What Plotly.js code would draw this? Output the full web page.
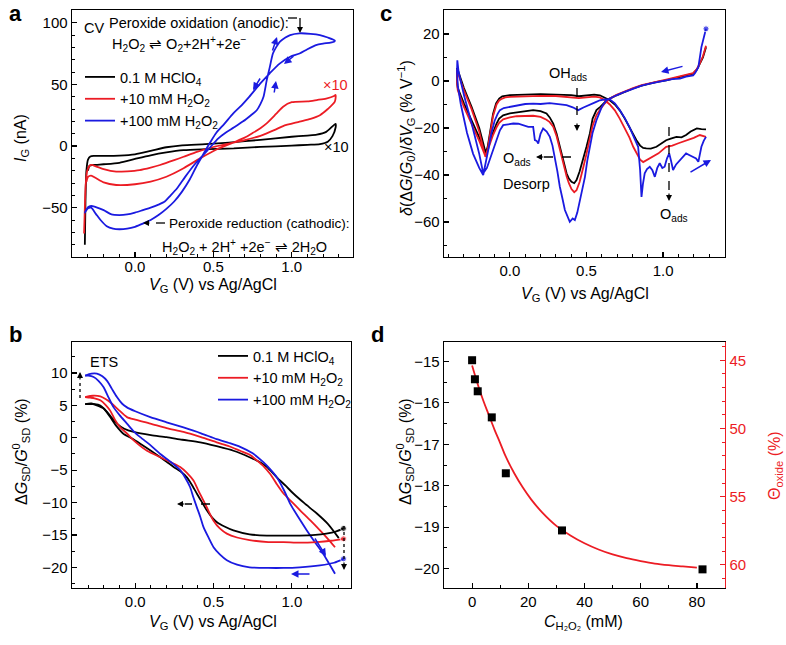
<!DOCTYPE html>
<html><head><meta charset="utf-8">
<script src="https://cdn.plot.ly/plotly-3.0.1.min.js"></script>
<style>body{margin:0;background:#fff}#chart{width:786px;height:645px}</style>
</head><body><div id="chart"></div>
<script>
// ---------- Panel a : CV, [V, I(nA)] ----------
const aBlack = [[-0.32,-80],[-0.316,-45],[-0.31,-20],[-0.30,-11],[-0.285,-8.5],[-0.26,-8],[-0.2,-8],[-0.1,-7.8],[0.0,-6.8],[0.1,-4],[0.2,-1],[0.3,0.6],[0.45,1.5],[0.6,2.8],[0.8,5],[1.0,7.5],[1.1,8.5],[1.16,9.2],[1.22,11.5],[1.28,18],
  [1.28,15],[1.26,8],[1.23,3.5],[1.18,1.6],[1.1,1],[1.0,0.3],[0.8,-0.7],[0.63,-1.9],[0.45,-2.6],[0.31,-3.4],[0.2,-5.2],[0.1,-7.5],[0.0,-10.5],[-0.1,-13.6],[-0.2,-14.8],[-0.266,-15.4],[-0.29,-16],[-0.30,-20]];
const aRed = [[-0.325,-71],[-0.32,-50],[-0.315,-32],[-0.305,-20],[-0.29,-16],[-0.275,-15.3],[-0.25,-16.5],[-0.2,-18.8],[-0.12,-20.8],[-0.05,-20.5],[0.03,-19.5],[0.1,-17.5],[0.16,-15.4],[0.25,-11.5],[0.31,-8.7],[0.4,-4.5],[0.5,-0.8],[0.6,2],[0.7,4.8],[0.8,8.3],[0.84,10.3],[0.9,13.5],[0.945,16.2],[1.05,19.7],[1.12,22],[1.18,25],[1.23,30],[1.275,36],
  [1.28,41.4],[1.27,40.5],[1.22,38.5],[1.16,37.3],[1.1,36.2],[1.0,35.5],[0.945,31.9],[0.9,26],[0.84,18.4],[0.8,14.5],[0.75,10.5],[0.7,6.8],[0.63,3],[0.52,-2.8],[0.415,-10],[0.31,-18],[0.2,-24.9],[0.1,-28.8],[0.0,-31],[-0.12,-31.6],[-0.2,-29.5],[-0.25,-26],[-0.28,-24],[-0.3,-25],[-0.31,-29]];
const aBlue = [[-0.32,-54],[-0.30,-49.5],[-0.28,-48.5],[-0.25,-49.5],[-0.2,-52],[-0.15,-55.5],[-0.1,-56],[-0.05,-55.5],[0.0,-54],[0.05,-52],[0.1,-50],[0.15,-47.5],[0.19,-45],[0.22,-41],[0.27,-34],[0.32,-25],[0.38,-15],[0.43,-8],[0.48,-1],[0.53,6],[0.58,11],[0.63,15],[0.69,20],[0.74,25],[0.777,29],[0.80,34],[0.82,40],[0.84,53],[0.86,64],[0.88,75],[0.9,80],[0.925,84.6],[0.96,88],[0.99,90],[1.05,91.4],[1.12,91],[1.18,90],[1.23,88],[1.275,85.5],
  [1.27,84.6],[1.2,83],[1.16,82],[1.1,78.5],[1.05,75],[0.99,72.4],[0.925,67],[0.86,59],[0.8,50.8],[0.73,40],[0.68,33],[0.627,26.5],[0.57,18],[0.52,11],[0.48,3],[0.43,-8],[0.39,-17],[0.35,-27],[0.3,-37],[0.25,-45],[0.2,-51],[0.15,-56],[0.1,-60],[0.05,-63],[0.0,-65.5],[-0.05,-67],[-0.1,-67.5],[-0.14,-67],[-0.18,-65],[-0.22,-60],[-0.25,-55],[-0.28,-50],[-0.3,-50.5],[-0.32,-54]];

// ---------- Panel c : derivative, [V, %/V] ----------
const cBlack = [[1.28,14.4],[1.26,10],[1.24,7.4],[1.22,4.8],[1.196,3.1],[1.15,2.3],[1.11,1.7],[1.06,1.0],[1.02,0.3],[0.96,-0.4],[0.913,-1.1],[0.86,-2],[0.804,-3.2],[0.75,-4.5],[0.696,-6.1],[0.652,-7.5],[0.62,-9],[0.59,-11],[0.565,-12.4],[0.54,-16],[0.522,-22.3],[0.5,-28],[0.478,-33.7],[0.455,-38.5],[0.435,-42.2],[0.42,-43.5],[0.402,-42.9],[0.385,-41.5],[0.37,-39.3],[0.35,-34],[0.326,-28],[0.305,-22.5],[0.283,-18.1],[0.26,-15.5],[0.239,-13.8],[0.2,-12.8],[0.152,-12.4],[0.1,-12.8],[0.044,-13.2],[0.0,-13.8],[-0.044,-14.6],[-0.07,-16],[-0.087,-18.1],[-0.11,-21.5],[-0.13,-25.2],[-0.145,-28.5],[-0.157,-30.8],
  [-0.18,-25],[-0.2,-20],[-0.25,-11],[-0.3,-3],[-0.337,4],[-0.345,5.5],[-0.345,0],[-0.34,-3],[-0.3,-9.5],[-0.25,-16.5],[-0.2,-24],[-0.175,-28.5],[-0.16,-31],
  [-0.145,-28],[-0.13,-22],[-0.11,-14],[-0.09,-9.5],[-0.07,-7.5],[-0.05,-6.5],[-0.03,-6.2],[0.0,-6],[0.1,-5.8],[0.2,-5.6],[0.3,-5.8],[0.4,-6],[0.45,-6.5],[0.5,-6.2],[0.55,-5.8],[0.587,-6.1],[0.62,-7],[0.652,-8.2],[0.685,-10],[0.717,-12.5],[0.75,-16],[0.78,-19.5],[0.805,-23],[0.826,-25.2],[0.85,-27.5],[0.87,-28.5],[0.89,-28.7],[0.92,-28.8],[0.957,-28],[0.99,-26.5],[1.02,-25.2],[1.05,-24.5],[1.087,-23.8],[1.12,-24],[1.15,-23],[1.18,-21.5],[1.22,-20.2],[1.25,-20.5],[1.28,-20.6]];
const cRed = [[1.28,15],[1.26,10.5],[1.24,7.5],[1.22,5],[1.196,3.3],[1.15,2.5],[1.11,1.9],[1.06,1.2],[1.02,0.6],[0.96,-0.2],[0.913,-0.9],[0.86,-1.8],[0.804,-3],[0.75,-4.3],[0.696,-5.9],[0.652,-7.5],[0.62,-9.5],[0.59,-12],[0.565,-14.5],[0.54,-19],[0.522,-25],[0.5,-31],[0.478,-37],[0.455,-43],[0.435,-46.5],[0.42,-47.3],[0.402,-46],[0.385,-43.5],[0.37,-40.5],[0.35,-35],[0.326,-29],[0.305,-23.5],[0.283,-19.5],[0.26,-17.5],[0.239,-16.5],[0.2,-15.3],[0.152,-14.8],[0.1,-14.8],[0.044,-15],[0.0,-15.5],[-0.044,-16.3],[-0.07,-17.8],[-0.087,-19.7],[-0.11,-23],[-0.13,-26.5],[-0.145,-30],[-0.16,-32.3],
  [-0.18,-27],[-0.2,-21.5],[-0.25,-12],[-0.3,-4],[-0.337,3],[-0.345,5],[-0.345,-1],[-0.34,-4],[-0.3,-11],[-0.25,-18],[-0.2,-25.5],[-0.175,-29.5],[-0.16,-32],
  [-0.145,-29],[-0.13,-23],[-0.11,-15],[-0.087,-10],[-0.07,-8.3],[-0.05,-7.5],[-0.03,-7],[0.0,-6.8],[0.1,-6.5],[0.2,-6.3],[0.3,-6.4],[0.4,-6.8],[0.45,-7.3],[0.5,-7],[0.55,-6.7],[0.587,-7],[0.62,-8.2],[0.652,-10],[0.685,-12.5],[0.717,-16],[0.75,-20],[0.78,-24],[0.805,-28],[0.826,-30.5],[0.85,-33.5],[0.87,-34.5],[0.89,-33.8],[0.935,-32.3],[0.97,-30.8],[1.02,-28],[1.06,-27.5],[1.1,-26.5],[1.13,-25.9],[1.17,-25],[1.2,-24.2],[1.24,-23],[1.26,-23.5],[1.28,-23.8]];
const cBlue = [[1.28,22.2],[1.265,18],[1.25,14.4],[1.24,10],[1.23,5.9],[1.21,3.5],[1.196,2.4],[1.15,1.8],[1.11,1],[1.06,0.8],[1.02,0.3],[0.96,-0.4],[0.913,-1.1],[0.86,-2],[0.804,-3.2],[0.75,-4.6],[0.696,-6.1],[0.66,-7.2],[0.63,-8.2],[0.6,-11],[0.565,-16.7],[0.54,-22],[0.522,-28],[0.505,-34],[0.49,-40.8],[0.473,-46],[0.457,-52],[0.44,-56],[0.424,-59.2],[0.41,-58.5],[0.391,-59.9],[0.375,-57.5],[0.359,-54.9],[0.343,-50],[0.326,-45],[0.31,-38.5],[0.294,-32.3],[0.278,-27.5],[0.261,-23.8],[0.24,-21.5],[0.217,-20.2],[0.2,-22.5],[0.185,-26.6],[0.175,-25.5],[0.163,-25.2],[0.152,-19.5],[0.12,-19.5],[0.087,-18.8],[0.055,-18.2],[0.022,-18.1],[-0.01,-18.5],[-0.044,-18.8],[-0.065,-21],[-0.087,-25.2],[-0.11,-29.5],[-0.13,-33.7],[-0.15,-37],[-0.174,-39.3],
  [-0.2,-31],[-0.25,-18],[-0.3,-6],[-0.335,4],[-0.343,8.8],[-0.345,4],[-0.34,-2],[-0.32,-10],[-0.28,-22],[-0.24,-31],[-0.2,-37],[-0.174,-40],
  [-0.16,-36],[-0.14,-29],[-0.12,-22],[-0.1,-17],[-0.08,-14],[-0.065,-12.4],[-0.04,-11.5],[0.0,-11],[0.044,-10.3],[0.1,-9.8],[0.152,-9.6],[0.2,-9.8],[0.26,-9.4],[0.31,-9.9],[0.37,-10.3],[0.41,-11.2],[0.446,-12.4],[0.48,-11.3],[0.52,-10.3],[0.56,-9],[0.587,-8.2],[0.62,-7.8],[0.652,-7.8],[0.685,-9.5],[0.717,-12.4],[0.75,-15.8],[0.78,-19.5],[0.81,-24],[0.837,-28],[0.85,-38],[0.859,-49.3],[0.868,-44],[0.88,-39.3],[0.895,-37.5],[0.913,-36.5],[0.93,-38],[0.946,-40.8],[0.962,-37],[0.978,-35],[0.995,-37],[1.01,-36.5],[1.025,-33],[1.04,-30.8],[1.052,-34],[1.065,-37.9],[1.085,-35.5],[1.11,-33.7],[1.13,-32],[1.15,-30.8],[1.17,-31.5],[1.196,-32.3],[1.215,-33],[1.23,-34.4],[1.24,-31],[1.25,-28],[1.265,-25.5],[1.28,-23.8]];

// ---------- Panel b : conductance, [V, %] ----------
const bBlackUp = [[-0.32,5.2],[-0.28,5.3],[-0.245,5],[-0.2,4.5],[-0.18,4],[-0.15,3.1],[-0.117,2.2],[-0.07,1.4],[-0.01,0.9],[0.1,0.4],[0.2,0.1],[0.3,-0.3],[0.415,-0.7],[0.52,-1.3],[0.627,-2],[0.73,-3],[0.8,-3.8],[0.84,-4.5],[0.904,-6.1],[0.96,-7.4],[1.01,-8.6],[1.08,-10.1],[1.16,-11.7],[1.23,-13.3],[1.30,-15.5]];
const bBlackDn = [[1.33,-14],[1.28,-14.5],[1.22,-14.8],[1.15,-15],[1.05,-15.1],[0.95,-15.1],[0.84,-15.1],[0.73,-14.9],[0.627,-14.3],[0.57,-13.7],[0.52,-13],[0.49,-12.3],[0.457,-11.2],[0.425,-9.9],[0.393,-8.6],[0.36,-7.2],[0.33,-6.1],[0.29,-5.2],[0.245,-4.5],[0.2,-3.7],[0.16,-3],[0.1,-2],[0.032,-0.9],[-0.02,-0.1],[-0.074,0.6],[-0.12,1.8],[-0.16,3.2],[-0.2,4.5],[-0.223,5],[-0.26,5.2],[-0.32,5.2]];
const bRedUp = [[-0.32,6.3],[-0.27,6.5],[-0.223,6.4],[-0.19,6],[-0.16,5.5],[-0.11,4.4],[-0.053,3.2],[0.0,2.8],[0.096,2.2],[0.2,1.5],[0.308,0.9],[0.42,0.1],[0.52,-0.7],[0.6,-1.3],[0.67,-2],[0.73,-2.6],[0.777,-3.5],[0.82,-4.4],[0.862,-5.6],[0.9,-7],[0.947,-8.6],[1.0,-9.9],[1.053,-11.2],[1.12,-12.8],[1.18,-14.3],[1.23,-15.6],[1.276,-16.9]];
const bRedDn = [[1.33,-15.6],[1.25,-15.9],[1.16,-16.1],[1.05,-16.2],[0.947,-16.1],[0.85,-16.1],[0.73,-15.8],[0.65,-15.4],[0.585,-14.8],[0.54,-14],[0.5,-12.8],[0.47,-11.4],[0.436,-9.7],[0.4,-8],[0.372,-6.6],[0.33,-5.4],[0.287,-4.5],[0.22,-3.7],[0.16,-3],[0.075,-2],[-0.01,-0.4],[-0.05,0.6],[-0.096,1.6],[-0.13,2.8],[-0.16,4.2],[-0.19,5.1],[-0.223,5.8],[-0.26,6.1],[-0.287,6.2],[-0.32,6.3]];
const bBlueUp = [[-0.32,9.6],[-0.28,9.9],[-0.245,9.9],[-0.21,9.5],[-0.18,8.8],[-0.15,7.6],[-0.117,6.3],[-0.085,5.3],[-0.053,4.7],[0.0,4.1],[0.096,3.2],[0.2,2.4],[0.308,1.6],[0.42,0.7],[0.52,-0.2],[0.6,-0.8],[0.67,-1.4],[0.75,-2.4],[0.82,-3.8],[0.86,-4.8],[0.904,-6.1],[0.95,-8.1],[0.99,-10.2],[1.04,-12.2],[1.096,-14.3],[1.15,-16.2],[1.2,-17.9],[1.24,-19.5],[1.276,-21]];
const bBlueDn = [[1.33,-18.7],[1.27,-19.3],[1.18,-19.7],[1.05,-20],[0.947,-20.1],[0.85,-20.1],[0.73,-20],[0.65,-19.6],[0.585,-18.9],[0.54,-18],[0.5,-16.9],[0.47,-15.5],[0.436,-13.8],[0.415,-12.2],[0.393,-10.7],[0.37,-9.1],[0.35,-7.6],[0.32,-6.2],[0.287,-5],[0.22,-3.6],[0.16,-2.5],[0.1,-1.2],[0.032,0.1],[-0.01,1],[-0.053,2.2],[-0.1,3.5],[-0.138,4.7],[-0.17,6.2],[-0.202,7.8],[-0.235,8.8],[-0.266,9.4],[-0.3,9.6],[-0.32,9.6]];

// ---------- Panel d ----------
const dConc = [0, 1, 2, 7, 12, 32, 82];
const dG = [-14.97, -15.43, -15.72, -16.35, -17.70, -19.08, -20.02];
const fitConc = [0,2,4,6,8,10,12,15,18,21,25,30,35,40,45,50,55,60,65,70,75,80];
const fitG = [-15.1,-15.55,-15.95,-16.3,-16.65,-16.97,-17.3,-17.7,-18.04,-18.33,-18.65,-18.97,-19.2,-19.39,-19.54,-19.66,-19.75,-19.82,-19.88,-19.92,-19.95,-19.98];

const legendNames = ['0.1 M HClO<sub>4</sub>', '+10 mM H<sub>2</sub>O<sub>2</sub>', '+100 mM H<sub>2</sub>O<sub>2</sub>'];

// ---------- helpers ----------
const W = 786, H = 645;
const BK = '#000000', RD = '#ec1c24', BL = '#1a1ae0';
const FONT = '"Liberation Sans", Arial, Helvetica, sans-serif';
const PX = x => x / W, PY = y => 1 - y / H;
const X = p => p.map(d => d[0]), Y = p => p.map(d => d[1]);

function line(p, color, xa, ya, extra) {
  return Object.assign({type:'scatter', mode:'lines', x:X(p), y:Y(p), xaxis:xa, yaxis:ya,
    line:{color:color, width:1.8, shape:'spline', smoothing:0.7}, showlegend:false, hoverinfo:'skip'}, extra || {});
}
const traces = [
  line(aBlack, BK, 'x', 'y', {name:legendNames[0], showlegend:true, legend:'legend'}),
  line(aRed, RD, 'x', 'y', {name:legendNames[1], showlegend:true, legend:'legend'}),
  line(aBlue, BL, 'x', 'y', {name:legendNames[2], showlegend:true, legend:'legend'}),
  line(cBlack, BK, 'x2', 'y2', {line:{color:BK, width:1.8}}),
  line(cRed, RD, 'x2', 'y2', {line:{color:RD, width:1.8}}),
  line(cBlue, BL, 'x2', 'y2', {line:{color:BL, width:1.8}, mode:'lines+markers', marker:{size:cBlue.map((d,i)=>i===0?6:0), color:BL}}),
  line(bBlackUp, BK, 'x3', 'y3', {name:legendNames[0], showlegend:true, legend:'legend2'}),
  line(bRedUp, RD, 'x3', 'y3', {name:legendNames[1], showlegend:true, legend:'legend2'}),
  line(bBlueUp, BL, 'x3', 'y3', {name:legendNames[2], showlegend:true, legend:'legend2'}),
  line(bBlackDn, BK, 'x3', 'y3', {mode:'lines+markers', marker:{size:bBlackDn.map((d,i)=>i===0?6:0), color:BK}}),
  line(bRedDn, RD, 'x3', 'y3', {mode:'lines+markers', marker:{size:bRedDn.map((d,i)=>i===0?6:0), color:RD}}),
  line(bBlueDn, BL, 'x3', 'y3', {mode:'lines+markers', marker:{size:bBlueDn.map((d,i)=>i===0?6:0), color:BL}}),
  {type:'scatter', mode:'lines', x:fitConc, y:fitG, xaxis:'x4', yaxis:'y4', line:{color:RD, width:1.8, shape:'spline'}, showlegend:false, hoverinfo:'skip'},
  {type:'scatter', mode:'markers', x:dConc, y:dG, xaxis:'x4', yaxis:'y4', marker:{symbol:'square', size:8, color:BK}, showlegend:false, hoverinfo:'skip'},
  {type:'scatter', mode:'markers', x:[], y:[], xaxis:'x4', yaxis:'y5', showlegend:false}
];

function axis(o) {
  return Object.assign({showline:true, linecolor:BK, linewidth:1.4, mirror:true, ticks:'inside', ticklen:5, tickwidth:1.2,
    tickcolor:BK, showgrid:false, zeroline:false, fixedrange:true, tickfont:{family:FONT, size:15, color:BK}}, o);
}
function minor(dt, t0, c) { return {ticks:'inside', ticklen:3, tickwidth:1, tickcolor:c || BK, dtick:dt, tick0:t0}; }

const layout = {
  width:W, height:H, margin:{l:0, r:0, t:0, b:0}, paper_bgcolor:'#fff', plot_bgcolor:'#fff',
  font:{family:FONT, size:15, color:BK},
  xaxis: axis({domain:[PX(72), PX(353)], range:[-0.402, 1.391], anchor:'y', dtick:0.5, tick0:0, tickformat:'.1f', ticklabelstandoff:-4, minor:minor(0.1, 0)}),
  yaxis: axis({domain:[PY(257), PY(10)], range:[-90, 110.3], anchor:'x', dtick:50, tick0:0, minor:minor(10, 0)}),
  xaxis2: axis({domain:[PX(444), PX(725)], range:[-0.43, 1.404], anchor:'y2', dtick:0.5, tick0:0, tickformat:'.1f', minor:minor(0.1, 0)}),
  yaxis2: axis({domain:[PY(257), PY(10)], range:[-74.9, 30.2], anchor:'x2', dtick:20, tick0:0, minor:minor(10, 0)}),
  xaxis3: axis({domain:[PX(72), PX(351)], range:[-0.404, 1.378], anchor:'y3', dtick:0.5, tick0:0, tickformat:'.1f', minor:minor(0.1, 0)}),
  yaxis3: axis({domain:[PY(588), PY(342)], range:[-23.2, 14.8], anchor:'x3', dtick:5, tick0:0, minor:minor(2.5, 0)}),
  xaxis4: axis({domain:[PX(444), PX(725)], range:[-10, 90], anchor:'y4', dtick:20, tick0:0, minor:minor(10, 0)}),
  yaxis4: axis({domain:[PY(588), PY(342)], range:[-20.47, -14.53], anchor:'x4', mirror:false, dtick:1, tick0:-20, minor:minor(0.5, 0)}),
  yaxis5: axis({overlaying:'y4', side:'right', anchor:'x4', range:[61.7, 43.66], mirror:false, linecolor:RD, tickcolor:RD,
    tickfont:{family:FONT, size:15, color:RD}, dtick:5, tick0:45, minor:minor(1, 45, RD)}),
  legend: {x:PX(80), y:PY(61), xanchor:'left', yanchor:'top', bgcolor:'rgba(0,0,0,0)', font:{family:FONT, size:14.5, color:BK}, tracegroupgap:0, itemwidth:30},
  legend2: {x:PX(213), y:PY(340), xanchor:'left', yanchor:'top', bgcolor:'rgba(0,0,0,0)', font:{family:FONT, size:14.5, color:BK}, tracegroupgap:0, itemwidth:30},
  annotations: [], shapes: []
};

const A = layout.annotations, S = layout.shapes;
function txt(t, x, y, o) {
  A.push(Object.assign({text:t, x:PX(x), y:PY(y), xref:'paper', yref:'paper', showarrow:false, xanchor:'left', yanchor:'middle',
    font:{family:FONT, size:14.5, color:BK}}, o || {}));
}
function arrow(tx, ty, hx, hy, color, w) {
  A.push({text:'', x:PX(hx), y:PY(hy), xref:'paper', yref:'paper', showarrow:true, ax:tx-hx, ay:ty-hy,
    arrowhead:2, arrowsize:1, arrowwidth:w || 1.5, arrowcolor:color});
}
function dline(x0, y0, x1, y1, dash) {
  S.push({type:'line', xref:'paper', yref:'paper', x0:PX(x0), y0:PY(y0), x1:PX(x1), y1:PY(y1), line:{color:BK, width:1.3, dash:dash || 'dash'}});
}

// panel letters
txt('<b>a</b>', 7, 13, {font:{family:FONT, size:22, color:BK}});
txt('<b>c</b>', 378, 13, {font:{family:FONT, size:22, color:BK}});
txt('<b>b</b>', 7, 334, {font:{family:FONT, size:22, color:BK}});
txt('<b>d</b>', 369, 334, {font:{family:FONT, size:22, color:BK}});

// axis titles
const TF = {family:FONT, size:16, color:BK};
txt('<i>I</i><sub>G</sub> (nA)', 21, 138, {xanchor:'center', textangle:-90, font:TF});
txt('<i>V</i><sub>G</sub> (V) vs Ag/AgCl', 213, 285, {xanchor:'center', font:TF});
txt('<i>δ</i>(Δ<i>G</i>/<i>G</i><sub>0</sub>)/<i>δV</i><sub>G</sub> (% V<sup>−1</sup>)', 406, 138, {xanchor:'center', textangle:-90, font:TF});
txt('<i>V</i><sub>G</sub> (V) vs Ag/AgCl', 585, 294, {xanchor:'center', font:TF});
txt('Δ<i>G</i><sub>SD</sub>/<i>G</i><sup>0</sup><sub>SD</sub> (%)', 21, 452, {xanchor:'center', textangle:-90, font:TF});
txt('<i>V</i><sub>G</sub> (V) vs Ag/AgCl', 213, 622, {xanchor:'center', font:TF});
txt('Δ<i>G</i><sub>SD</sub>/<i>G</i><sup>0</sup><sub>SD</sub> (%)', 405, 452, {xanchor:'center', textangle:-90, font:TF});
txt('<i>C</i><sub>H₂O₂</sub> (mM)', 583, 622, {xanchor:'center', font:TF});
txt('Θ<sub>oxide</sub> (%)', 775, 466, {xanchor:'center', textangle:-90, font:{family:FONT, size:16, color:RD}});

// panel a annotations
txt('CV', 82, 28);
txt('Peroxide oxidation (anodic):', 107, 23);
dline(288, 18, 300, 18); dline(300, 18, 300, 27);
arrow(300, 26, 300, 33, BK, 1.2);
txt('H<sub>2</sub>O<sub>2</sub> ⇌ O<sub>2</sub>+2H<sup>+</sup>+2e<sup>−</sup>', 110, 44);
txt('×10', 335, 85, {xanchor:'center', font:{family:FONT, size:14.5, color:RD}});
txt('×10', 336, 147, {xanchor:'center'});
txt('Peroxide reduction (cathodic):', 167, 223, {font:{family:FONT, size:13.6, color:BK}});
dline(165, 223, 150, 223);
arrow(151, 223, 143, 223, BK, 1.2);
txt('H<sub>2</sub>O<sub>2</sub> + 2H<sup>+</sup> +2e<sup>−</sup> ⇌ 2H<sub>2</sub>O', 160, 247);
arrow(272, 52, 277, 37, BL);
arrow(295, 55, 284, 64, BL);
arrow(261, 77, 253, 90, BL);
arrow(274, 94, 276, 81, BL);

// panel c annotations
txt('OH<sub>ads</sub>', 568, 74, {xanchor:'center'});
dline(577, 88, 577, 123);
arrow(577, 122, 577, 131, BK, 1.2);
txt('O<sub>ads</sub>', 501, 159);
dline(571, 157, 544, 157);
arrow(545, 157, 536, 157, BK, 1.2);
txt('Desorp', 501, 184);
dline(669, 127, 669, 193);
arrow(669, 192, 669, 201, BK, 1.2);
txt('O<sub>ads</sub>', 658, 215);
arrow(684, 66, 661, 72, BL);
arrow(689, 173, 711, 160, BL);

// panel b annotations
txt('ETS', 88, 362);
dline(80, 398, 80, 380, 'dot');
arrow(80, 381, 80, 372, BK, 1.2);
dline(210, 504, 185, 504);
arrow(186, 504, 177, 504, BK, 1.2);
dline(344, 526, 344, 562, 'dot');
arrow(344, 561, 344, 570, BK, 1.2);
arrow(314, 537, 326, 556, BL);
arrow(311, 574, 291, 574, BL);

Plotly.newPlot('chart', traces, layout, {displayModeBar:false, staticPlot:true});
</script></body></html>
